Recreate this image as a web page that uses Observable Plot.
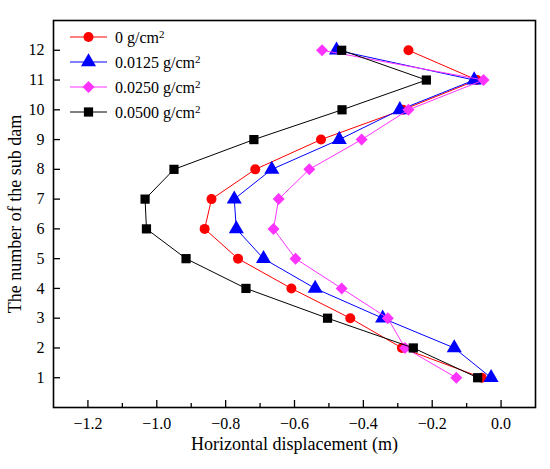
<!DOCTYPE html>
<html>
<head>
<meta charset="utf-8">
<script src="https://cdn.jsdelivr.net/npm/d3@7"></script>
<script src="https://cdn.jsdelivr.net/npm/@observablehq/plot@0.6"></script>
<style>
  html, body { margin: 0; padding: 0; background: #fff; }
  #chart { width: 550px; height: 469px; }
  #chart svg, #chart svg text { font-family: "Liberation Serif", "Times New Roman", serif !important; }
</style>
</head>
<body>
<div id="chart"></div>
<script>
// ---- data ----
const subDam = [1, 2, 3, 4, 5, 6, 7, 8, 9, 10, 11, 12];
const seriesNames = ["0", "0.0125", "0.0250", "0.0500"];
const disp0000 = [-0.056, -0.288, -0.438, -0.609, -0.764, -0.861, -0.841, -0.714, -0.523, -0.285, -0.070, -0.269];
const disp0125 = [-0.029, -0.136, -0.344, -0.540, -0.690, -0.769, -0.775, -0.666, -0.470, -0.294, -0.078, -0.478];
const disp0250 = [-0.130, -0.279, -0.329, -0.463, -0.597, -0.661, -0.646, -0.557, -0.405, -0.269, -0.051, -0.520];
const disp0500 = [-0.068, -0.255, -0.504, -0.741, -0.915, -1.030, -1.034, -0.950, -0.718, -0.462, -0.217, -0.463];
const xTicks = [-1.2, -1.0, -0.8, -0.6, -0.4, -0.2, 0.0];
const xMinorTicks = [-1.1, -0.9, -0.7, -0.5, -0.3, -0.1];
const yTicks = [1, 2, 3, 4, 5, 6, 7, 8, 9, 10, 11, 12];

// ---- styles ----
const colors = ["#ff0000", "#0000ff", "#ff33ff", "#000000"];
const symbols = ["circle", "triangle", "diamond2", "square"];
const radii = [5, 5.6, 5.4, 5.2];
const allValues = [disp0000, disp0125, disp0250, disp0500];

const W = 550, H = 469;
const mL = 53, mR = 15, mT = 20, mB = 62;
const innerW = W - mL - mR, innerH = H - mT - mB;
const font = '"Liberation Serif", "Times New Roman", serif';

const marks = [];
allValues.forEach((vals, i) => {
  const rows = subDam.map((s, j) => ({sub: s, x: vals[j]}));
  marks.push(Plot.line(rows, {x: "x", y: "sub", stroke: colors[i], strokeWidth: 1}));
  marks.push(Plot.dot(rows, {x: "x", y: "sub", symbol: () => symbols[i], r: radii[i], fill: colors[i], stroke: "none"}));
});

const chart = Plot.plot({
  width: W,
  height: H,
  marginLeft: mL,
  marginRight: mR,
  marginTop: mT,
  marginBottom: mB,
  style: {fontFamily: font, color: "#000", background: "#fff"},
  x: {domain: [-1.3, 0.1]},
  y: {domain: [0, 13]},
  symbol: {type: "identity"},
  marks: [
    Plot.axisX({ticks: xTicks, tickSize: 0, tickPadding: 10, tickFormat: d3.format(".1f"), label: null, fontSize: 16, fontFamily: font}),
    Plot.axisY({ticks: yTicks, tickSize: 0, tickPadding: 9, tickFormat: d3.format("d"), label: null, fontSize: 16, fontFamily: font}),
    Plot.ruleX(xTicks, {x: d => d, insetTop: innerH - 7, stroke: "#000", strokeWidth: 1.3}),
    Plot.ruleX(xMinorTicks, {x: d => d, insetTop: innerH - 4, stroke: "#000", strokeWidth: 1.3}),
    Plot.ruleY(yTicks, {y: d => d, insetRight: innerW - 7, stroke: "#000", strokeWidth: 1.3}),
    ...marks,
    Plot.frame({stroke: "#000", strokeWidth: 1.6}),
    Plot.text(["Horizontal displacement (m)"], {frameAnchor: "bottom", dy: 42, textAnchor: "middle", fontSize: 18, fill: "#000", fontFamily: font}),
    Plot.text(["The number of the sub dam"], {frameAnchor: "left", dx: -38, rotate: -90, textAnchor: "middle", fontSize: 18, fill: "#000", fontFamily: font})
  ]
});

// ---- legend (inside plot, top-left) ----
const svg = d3.select(chart);
const lg = svg.append("g").attr("font-family", font).attr("font-size", 16).attr("text-anchor", "start");
const symGen = {
  circle: d3.symbolCircle, triangle: d3.symbolTriangle,
  diamond2: d3.symbolDiamond2, square: d3.symbolSquare
};
seriesNames.forEach((name, i) => {
  const y = 37 + i * 25;
  lg.append("line").attr("x1", 70).attr("x2", 107).attr("y1", y).attr("y2", y)
    .attr("stroke", colors[i]).attr("stroke-width", 1);
  lg.append("path")
    .attr("transform", `translate(88.5,${y})`)
    .attr("d", d3.symbol(symGen[symbols[i]], Math.PI * radii[i] * radii[i])())
    .attr("fill", colors[i]);
  const t = lg.append("text").attr("x", 115).attr("y", y).attr("dy", "0.35em")
    .attr("fill", "#000").attr("text-anchor", "start");
  t.append("tspan").text(`${name} g/cm`);
  t.append("tspan").attr("dy", "-0.45em").attr("font-size", 11).text("2");
});

document.getElementById("chart").appendChild(chart);
</script>
</body>
</html>
